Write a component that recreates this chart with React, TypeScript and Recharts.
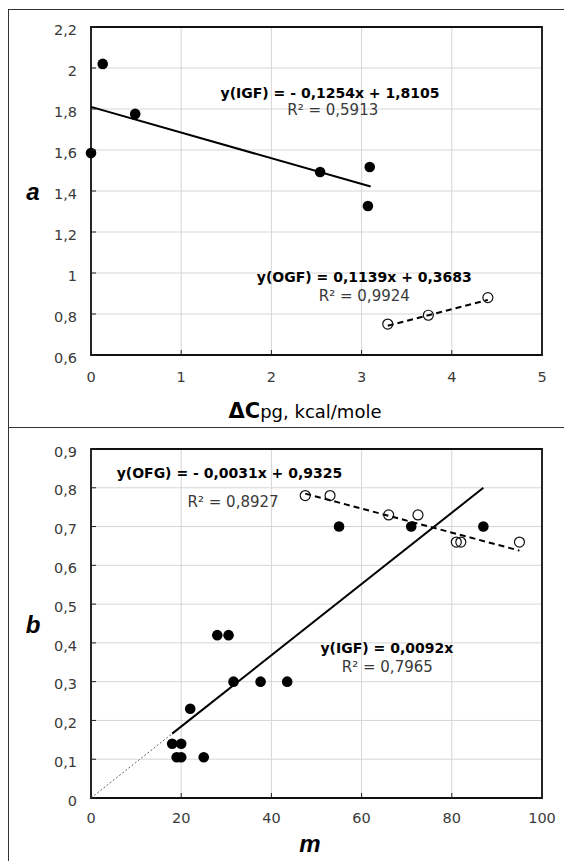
import React from 'react';
import {
  ScatterChart,
  Scatter,
  XAxis,
  YAxis,
  CartesianGrid,
  ReferenceArea,
  ReferenceDot,
} from 'recharts';

const FONT = '"DejaVu Sans", sans-serif';
const LETTER_FONT = '"Liberation Sans", Arial, sans-serif';

// ---------- Panel a ----------
const topXTicks = [0, 1, 2, 3, 4, 5];
const topYTicks = [0.6, 0.8, 1, 1.2, 1.4, 1.6, 1.8, 2, 2.2];
const topIGF = [
  { x: 0, y: 1.585 },
  { x: 0.13, y: 2.02 },
  { x: 0.49, y: 1.776 },
  { x: 2.54, y: 1.493 },
  { x: 3.09, y: 1.517 },
  { x: 3.07, y: 1.327 },
];
const topOGF = [
  { x: 3.29, y: 0.751 },
  { x: 3.74, y: 0.794 },
  { x: 4.4, y: 0.88 },
];
const topIGFTrend = [
  { x: 0, y: 1.8105 },
  { x: 3.1, y: 1.422 },
];
const topOGFTrend = [
  { x: 3.29, y: 0.743 },
  { x: 4.4, y: 0.869 },
];
const topNotes = [
  { x: 2.65, y: 1.877, text: 'y(IGF) = - 0,1254x + 1,8105', bold: true },
  { x: 2.68, y: 1.795, text: 'R² = 0,5913', bold: false },
  { x: 3.03, y: 0.982, text: 'y(OGF) = 0,1139x + 0,3683', bold: true },
  { x: 3.03, y: 0.888, text: 'R² = 0,9924', bold: false },
];

// ---------- Panel b ----------
const botXTicks = [0, 20, 40, 60, 80, 100];
const botYTicks = [0, 0.1, 0.2, 0.3, 0.4, 0.5, 0.6, 0.7, 0.8, 0.9];
const botIGF = [
  { x: 18, y: 0.14 },
  { x: 20, y: 0.14 },
  { x: 19, y: 0.105 },
  { x: 20, y: 0.105 },
  { x: 25, y: 0.105 },
  { x: 22, y: 0.23 },
  { x: 28, y: 0.42 },
  { x: 30.5, y: 0.42 },
  { x: 31.6, y: 0.3 },
  { x: 37.6, y: 0.3 },
  { x: 43.5, y: 0.3 },
  { x: 55, y: 0.7 },
  { x: 71, y: 0.7 },
  { x: 87, y: 0.7 },
];
const botOFG = [
  { x: 47.5, y: 0.78 },
  { x: 53, y: 0.78 },
  { x: 66, y: 0.73 },
  { x: 72.5, y: 0.73 },
  { x: 81, y: 0.66 },
  { x: 82, y: 0.66 },
  { x: 95, y: 0.66 },
];
const botIGFTrend = [
  { x: 18, y: 0.166 },
  { x: 87, y: 0.8 },
];
const botIGFExt = [
  { x: 0, y: 0 },
  { x: 18, y: 0.166 },
];
const botOFGTrend = [
  { x: 47.5, y: 0.785 },
  { x: 95, y: 0.638 },
];
const botNotes = [
  { x: 30.7, y: 0.839, text: 'y(OFG) = - 0,0031x + 0,9325', bold: true },
  { x: 31.5, y: 0.764, text: 'R² = 0,8927', bold: false },
  { x: 65.6, y: 0.388, text: 'y(IGF) = 0,0092x', bold: true },
  { x: 65.7, y: 0.339, text: 'R² = 0,7965', bold: false },
];

const fmt = (v: number) => String(v).replace('.', ',');

const makeXTick = (margin: number) => (p: any) => {
  const { x, y, payload } = p;
  const ay = y - margin;
  return (
    <g>
      <line x1={x} x2={x} y1={ay} y2={ay - 5} stroke="#222" strokeWidth={1} />
      <text
        x={x}
        y={y}
        dy="0.73em"
        textAnchor="middle"
        fill="#3a3a3a"
        fontSize={14.5}
        fontFamily={FONT}
      >
        {fmt(payload.value)}
      </text>
    </g>
  );
};

const makeYTick = (margin: number) => (p: any) => {
  const { x, y, payload } = p;
  const ax = x + margin;
  return (
    <g>
      <line x1={ax} x2={ax + 5} y1={y} y2={y} stroke="#222" strokeWidth={1} />
      <text
        x={x}
        y={y + 2.5}
        dy="0.36em"
        textAnchor="end"
        fill="#3a3a3a"
        fontSize={14.5}
        fontFamily={FONT}
      >
        {fmt(payload.value)}
      </text>
    </g>
  );
};

const filledDot = (p: any) => <circle cx={p.cx} cy={p.cy} r={5.3} fill="#000" />;
const openDot = (p: any) => (
  <circle cx={p.cx} cy={p.cy} r={5} fill="none" stroke="#111" strokeWidth={1.2} />
);
const noDot = () => <g />;

const NoteLabel = (props: any) => {
  const { viewBox, text, bold } = props;
  const cx = viewBox.x + viewBox.width / 2;
  const cy = viewBox.y + viewBox.height / 2;
  return (
    <text
      x={cx}
      y={cy}
      dy="0.36em"
      textAnchor="middle"
      fill={bold ? '#000' : '#3a3a3a'}
      fontSize={bold ? 14 : 15}
      fontWeight={bold ? 'bold' : 'normal'}
      fontFamily={FONT}
    >
      {text}
    </text>
  );
};

const AxisLetter = (props: any) => {
  const { viewBox, letter } = props;
  return (
    <text
      x={viewBox.x + 33}
      y={viewBox.y + viewBox.height / 2 + 9}
      textAnchor="middle"
      fill="#000"
      fontSize={24}
      fontWeight="bold"
      fontStyle="italic"
      fontFamily={LETTER_FONT}
    >
      {letter}
    </text>
  );
};

const TopXLabel = (props: any) => {
  const { viewBox } = props;
  return (
    <text
      x={viewBox.x + viewBox.width / 2 - 11.5}
      y={viewBox.y + 63}
      textAnchor="middle"
      fill="#000"
      fontFamily={FONT}
    >
      <tspan fontSize={21} fontWeight="bold">ΔC</tspan>
      <tspan fontSize={18}>pg, kcal/mole</tspan>
    </text>
  );
};

const BotXLabel = (props: any) => {
  const { viewBox } = props;
  return (
    <text
      x={viewBox.x + viewBox.width / 2 - 6.5}
      y={viewBox.y + 54}
      textAnchor="middle"
      fill="#000"
      fontSize={24}
      fontWeight="bold"
      fontStyle="italic"
      fontFamily={LETTER_FONT}
    >
      m
    </text>
  );
};

const GRID = '#d6d6d6';

export default function App() {
  return (
    <div
      style={{
        position: 'absolute',
        left: 0,
        top: 0,
        width: 564,
        height: 861,
        overflow: 'hidden',
        background: '#fff',
      }}
    >
      {/* frames */}
      <div
        style={{
          position: 'absolute',
          left: 8,
          top: 9,
          width: 620,
          height: 419,
          borderLeft: '1.5px solid #333',
          borderTop: '1.5px solid #333',
          borderBottom: '1.5px solid #333',
          boxSizing: 'border-box',
        }}
      />
      <div
        style={{
          position: 'absolute',
          left: 8,
          top: 427,
          width: 620,
          height: 500,
          borderLeft: '1.5px solid #333',
          boxSizing: 'border-box',
        }}
      />

      {/* Panel a */}
      <div style={{ position: 'absolute', left: 0, top: 0 }}>
        <ScatterChart
          width={564}
          height={428}
          margin={{ top: 27, right: 22, bottom: 33, left: 0 }}
        >
          <CartesianGrid stroke={GRID} strokeWidth={1} />
          <XAxis
            type="number"
            dataKey="x"
            domain={[0, 5]}
            ticks={topXTicks}
            height={40}
            tickSize={0}
            tickMargin={16}
            tickLine={false}
            axisLine={false}
            tick={makeXTick(16)}
            label={<TopXLabel />}
          />
          <YAxis
            type="number"
            dataKey="y"
            domain={[0.6, 2.2]}
            ticks={topYTicks}
            width={91}
            tickSize={0}
            tickMargin={14}
            tickLine={false}
            axisLine={false}
            tick={makeYTick(14)}
            label={<AxisLetter letter="a" />}
          />
          <ReferenceArea
            x1={0}
            x2={5}
            y1={0.6}
            y2={2.2}
            fill="none"
            fillOpacity={0}
            stroke="#111"
            strokeWidth={1.8}
          />
          <Scatter
            data={topIGFTrend}
            line={{ stroke: '#000', strokeWidth: 2 }}
            shape={noDot}
            isAnimationActive={false}
          />
          <Scatter
            data={topOGFTrend}
            line={{ stroke: '#000', strokeWidth: 2, strokeDasharray: '6 4' }}
            shape={noDot}
            isAnimationActive={false}
          />
          <Scatter data={topIGF} shape={filledDot} isAnimationActive={false} />
          <Scatter data={topOGF} shape={openDot} isAnimationActive={false} />
          {topNotes.map((n, i) => (
            <ReferenceDot
              key={i}
              x={n.x}
              y={n.y}
              r={1}
              fill="none"
              stroke="none"
              label={<NoteLabel text={n.text} bold={n.bold} />}
            />
          ))}
        </ScatterChart>
      </div>

      {/* Panel b */}
      <div style={{ position: 'absolute', left: 0, top: 428 }}>
        <ScatterChart
          width={564}
          height={433}
          margin={{ top: 21, right: 22, bottom: 23, left: 0 }}
        >
          <CartesianGrid stroke={GRID} strokeWidth={1} />
          <XAxis
            type="number"
            dataKey="x"
            domain={[0, 100]}
            ticks={botXTicks}
            height={40}
            tickSize={0}
            tickMargin={14}
            tickLine={false}
            axisLine={false}
            tick={makeXTick(14)}
            label={<BotXLabel />}
          />
          <YAxis
            type="number"
            dataKey="y"
            domain={[0, 0.9]}
            ticks={botYTicks}
            width={91}
            tickSize={0}
            tickMargin={14}
            tickLine={false}
            axisLine={false}
            tick={makeYTick(14)}
            label={<AxisLetter letter="b" />}
          />
          <ReferenceArea
            x1={0}
            x2={100}
            y1={0}
            y2={0.9}
            fill="none"
            fillOpacity={0}
            stroke="#111"
            strokeWidth={1.8}
          />
          <Scatter
            data={botIGFExt}
            line={{ stroke: '#666', strokeWidth: 1, strokeDasharray: '2 2' }}
            shape={noDot}
            isAnimationActive={false}
          />
          <Scatter
            data={botIGFTrend}
            line={{ stroke: '#000', strokeWidth: 2 }}
            shape={noDot}
            isAnimationActive={false}
          />
          <Scatter
            data={botOFGTrend}
            line={{ stroke: '#000', strokeWidth: 2, strokeDasharray: '6 4' }}
            shape={noDot}
            isAnimationActive={false}
          />
          <Scatter data={botIGF} shape={filledDot} isAnimationActive={false} />
          <Scatter data={botOFG} shape={openDot} isAnimationActive={false} />
          {botNotes.map((n, i) => (
            <ReferenceDot
              key={i}
              x={n.x}
              y={n.y}
              r={1}
              fill="none"
              stroke="none"
              label={<NoteLabel text={n.text} bold={n.bold} />}
            />
          ))}
        </ScatterChart>
      </div>
    </div>
  );
}
